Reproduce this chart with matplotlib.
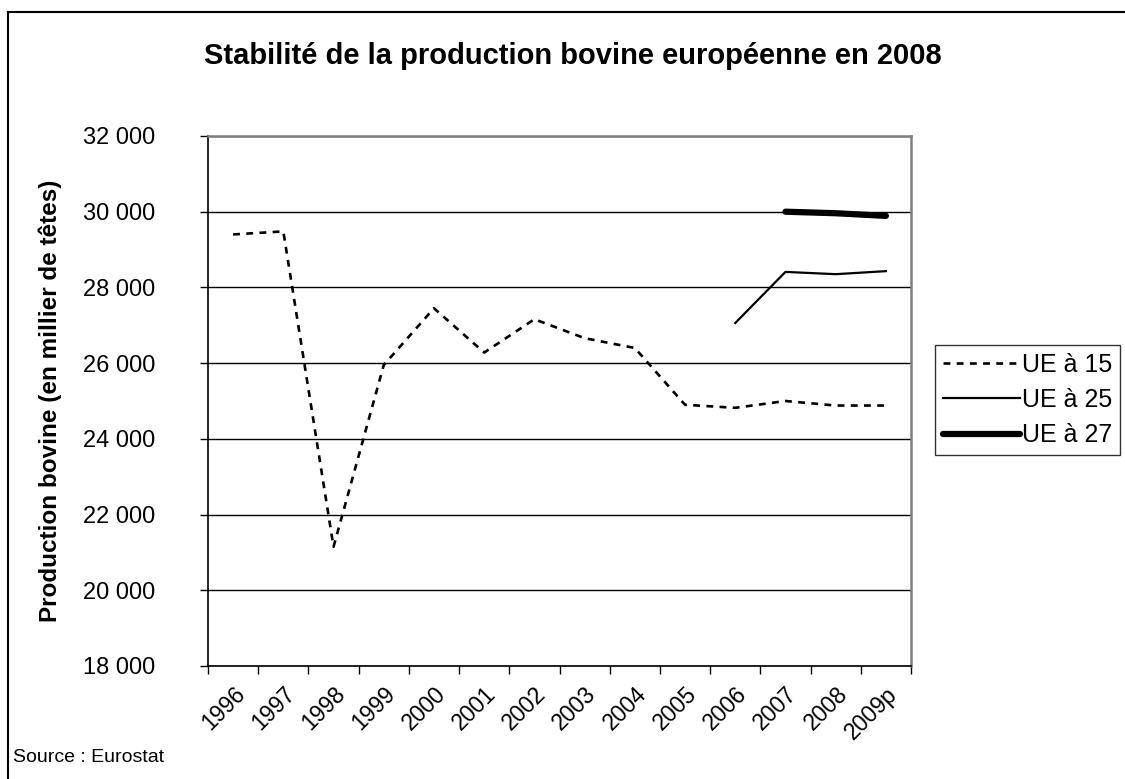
import matplotlib
matplotlib.use("Agg")
import matplotlib.pyplot as plt
from matplotlib.lines import Line2D
from matplotlib.ticker import FuncFormatter
import numpy as np

plt.rcParams['font.family'] = ['Liberation Sans', 'DejaVu Sans']

years = ['1996', '1997', '1998', '1999', '2000', '2001', '2002', '2003',
         '2004', '2005', '2006', '2007', '2008', '2009p']
ue15 = [29400, 29480, 21150, 25950, 27450, 26280, 27160, 26660,
        26400, 24900, 24820, 25000, 24880, 24880]
ue25 = [np.nan] * 10 + [27060, 28410, 28350, 28430]
ue27 = [np.nan] * 11 + [30000, 29960, 29890]

W, H = 1125, 779
fig = plt.figure(figsize=(W / 100, H / 100), dpi=100)
ax = fig.add_axes([208 / W, 1 - 666 / H, (911 - 208) / W, (666 - 136) / H])

x = np.arange(len(years))
ax.plot(x, ue15, color='black', lw=1.9, linestyle=(0, (2.6, 2.4)),
        dash_capstyle='butt', label='UE à 15')
ax.plot(x, ue25, color='black', lw=1.6, label='UE à 25')
ax.plot(x, ue27, color='black', lw=4.5, solid_capstyle='round', label='UE à 27')

ax.set_xlim(-0.5, len(years) - 0.5)
ax.set_ylim(18000, 32000)
ax.set_yticks(np.arange(18000, 32001, 2000))
ax.yaxis.set_major_formatter(FuncFormatter(lambda v, p: f"{int(v):,}".replace(',', ' ')))
ax.grid(axis='y', color='black', lw=1)
ax.set_axisbelow(True)

# category boundaries get the tick marks, centres get the labels
ax.set_xticks(np.arange(-0.5, len(years)), minor=False)
ax.set_xticklabels([])
ax.set_xticks(x, minor=True)
ax.set_xticklabels(years, minor=True, rotation=45, ha='right', va='top',
                   rotation_mode='anchor', fontsize=16.5)
ax.tick_params(axis='x', which='major', length=6, width=1, direction='out')
ax.tick_params(axis='x', which='minor', length=0, pad=12)
ax.tick_params(axis='y', length=6, width=1, direction='out', pad=32, labelsize=17)

for side in ['left', 'bottom']:
    ax.spines[side].set_color('black')
    ax.spines[side].set_linewidth(1.2)
for side in ['top', 'right']:
    ax.spines[side].set_color('#808080')
    ax.spines[side].set_linewidth(1.8)

fig.text(50 / W, 1 - 401 / H, 'Production bovine (en millier de têtes)',
         rotation=90, ha='center', va='center', fontsize=17.5, fontweight='bold')

fig.text(573 / W, 1 - 56 / H, 'Stabilité de la production bovine européenne en 2008',
         ha='center', va='center', fontsize=21, fontweight='bold')
fig.text(13 / W, 1 - 757 / H, 'Source : Eurostat', ha='left', va='center',
         fontsize=14)

leg = fig.legend(loc='center left', bbox_to_anchor=(935 / W, 1 - 400 / H),
                 fontsize=18, frameon=True, fancybox=False, handlelength=3.1,
                 handletextpad=0.1, borderpad=0.3, labelspacing=0.45,
                 borderaxespad=0)
leg.get_frame().set_edgecolor('black')
leg.get_frame().set_linewidth(1.0)

# outer chart frame
fig.add_artist(Line2D([8 / W, 8 / W], [0, 1 - 12 / H], transform=fig.transFigure,
                      color='black', lw=1.5))
fig.add_artist(Line2D([8 / W, 1], [1 - 12 / H, 1 - 12 / H], transform=fig.transFigure,
                      color='black', lw=1.5))

fig.savefig('out.png', dpi=100)
